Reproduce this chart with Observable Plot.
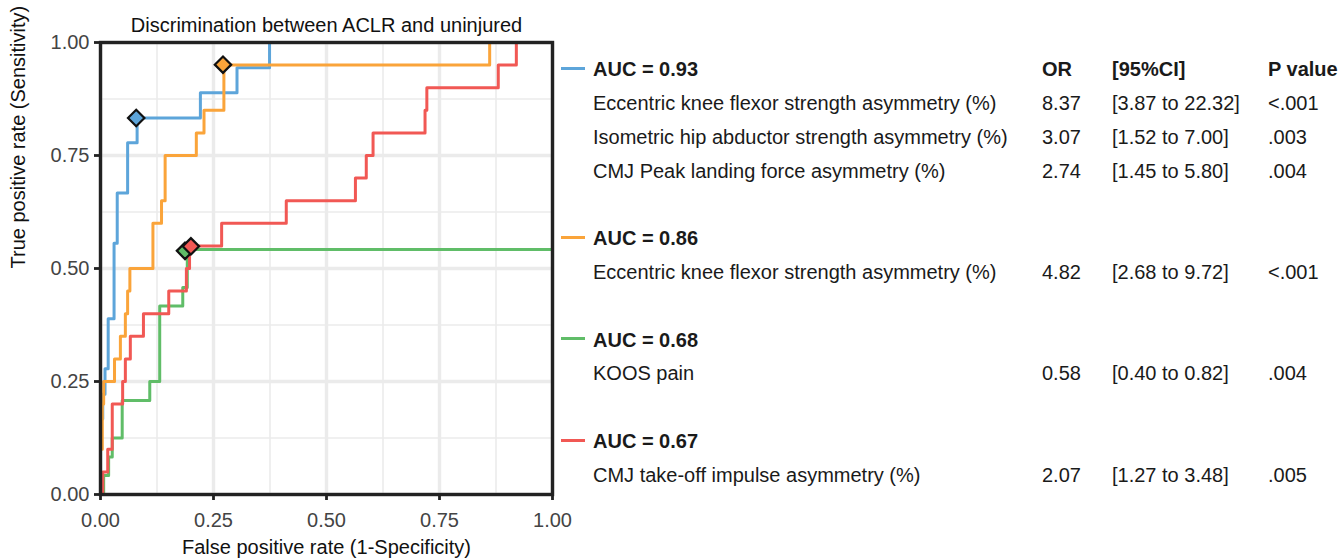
<!DOCTYPE html>
<html>
<head>
<meta charset="utf-8">
<script src="https://cdn.jsdelivr.net/npm/d3@7"></script>
<script src="https://cdn.jsdelivr.net/npm/@observablehq/plot@0.6"></script>
<style>
  html, body { margin: 0; padding: 0; background: #fff; }
  #wrap { position: relative; width: 1339px; height: 560px; overflow: hidden; font-family: "Liberation Sans", Arial, sans-serif; }
  #wrap svg { position: absolute; left: 0; top: 0; }
  .row { position: absolute; font-size: 20px; line-height: 34px; height: 34px; color: #1a1a1a; white-space: nowrap; }
  .bold { font-weight: bold; }
  .key { position: absolute; height: 3px; width: 24px; }
</style>
</head>
<body>
<div id="wrap"></div>
<script>
// ---- data ----
const models = ["AUC = 0.93", "AUC = 0.86", "AUC = 0.68", "AUC = 0.67"];
const colors = ["#5DA5DA", "#FAA43A", "#60BD68", "#F15854"];

const blueFpr = [0,0,0.005,0.005,0.010,0.010,0.017,0.017,0.030,0.030,0.037,0.037,0.060,0.060,0.081,0.081,0.221,0.221,0.302,0.302,0.374,0.374,1];
const blueTpr = [0,0.167,0.167,0.222,0.222,0.278,0.278,0.389,0.389,0.556,0.556,0.667,0.667,0.778,0.778,0.833,0.833,0.889,0.889,0.944,0.944,1,1];

const orangeFpr = [0,0,0.004,0.004,0.007,0.007,0.031,0.031,0.044,0.044,0.055,0.055,0.060,0.060,0.065,0.065,0.116,0.116,0.135,0.135,0.143,0.143,0.212,0.212,0.229,0.229,0.273,0.273,0.861,0.861,1];
const orangeTpr = [0,0.10,0.10,0.20,0.20,0.25,0.25,0.30,0.30,0.35,0.35,0.40,0.40,0.45,0.45,0.50,0.50,0.60,0.60,0.65,0.65,0.75,0.75,0.80,0.80,0.85,0.85,0.95,0.95,1,1];

const greenFpr = [0,0.007,0.007,0.018,0.018,0.026,0.026,0.048,0.048,0.109,0.109,0.131,0.131,0.182,0.182,0.192,0.192,1];
const greenTpr = [0,0,0.042,0.042,0.083,0.083,0.125,0.125,0.208,0.208,0.25,0.25,0.417,0.417,0.458,0.458,0.542,0.542];

const redFpr = [0,0.005,0.005,0.016,0.016,0.026,0.026,0.049,0.049,0.055,0.055,0.066,0.066,0.095,0.095,0.151,0.151,0.190,0.190,0.197,0.197,0.268,0.268,0.411,0.411,0.564,0.564,0.588,0.588,0.603,0.603,0.718,0.718,0.722,0.722,0.880,0.880,0.920,0.920,1];
const redTpr = [0,0,0.05,0.05,0.10,0.10,0.20,0.20,0.25,0.25,0.30,0.30,0.35,0.35,0.40,0.40,0.45,0.45,0.50,0.50,0.55,0.55,0.60,0.60,0.65,0.65,0.70,0.70,0.75,0.75,0.80,0.80,0.85,0.85,0.90,0.90,0.95,0.95,1,1];

const cutFpr = [0.079, 0.271, 0.187, 0.200];
const cutTpr = [0.833, 0.951, 0.539, 0.549];

const xTicks = [0, 0.25, 0.5, 0.75, 1];
const yTicks = [0, 0.25, 0.5, 0.75, 1];
const minorTicks = [0.125, 0.375, 0.625, 0.875];

const title = "Discrimination between ACLR and uninjured";
const xLabel = "False positive rate (1-Specificity)";
const yLabel = "True positive rate (Sensitivity)";

const tableHeader = ["OR", "[95%CI]", "P value"];
const predictors = [
  ["Eccentric knee flexor strength asymmetry (%)", "Isometric hip abductor strength asymmetry (%)", "CMJ Peak landing force asymmetry (%)"],
  ["Eccentric knee flexor strength asymmetry (%)"],
  ["KOOS pain"],
  ["CMJ take-off impulse asymmetry (%)"]
];
const oddsRatios = [["8.37", "3.07", "2.74"], ["4.82"], ["0.58"], ["2.07"]];
const confInts = [["[3.87 to 22.32]", "[1.52 to 7.00]", "[1.45 to 5.80]"], ["[2.68 to 9.72]"], ["[0.40 to 0.82]"], ["[1.27 to 3.48]"]];
const pValues = [["<.001", ".003", ".004"], ["<.001"], [".004"], [".005"]];

// ---- build tables ----
const curves = [[blueFpr, blueTpr], [orangeFpr, orangeTpr], [greenFpr, greenTpr], [redFpr, redTpr]];
const lineData = curves.flatMap(([fx, ty], i) => fx.map((f, j) => ({model: models[i], fpr: f, tpr: ty[j]})));
const cutData = models.map((m, i) => ({model: m, fpr: cutFpr[i], tpr: cutTpr[i]}));

const color = {domain: models, range: colors};

const chart = Plot.plot({
  width: 580,
  height: 560,
  marginLeft: 100,
  marginRight: 28,
  marginTop: 42,
  marginBottom: 66,
  style: {fontFamily: "'Liberation Sans', Arial, sans-serif", fontSize: "20px", background: "transparent", overflow: "visible"},
  x: {domain: [0, 1]},
  y: {domain: [0, 1]},
  color,
  marks: [
    Plot.gridX(minorTicks, {stroke: "#ebebeb", strokeOpacity: 1, strokeWidth: 1.6}),
    Plot.gridY(minorTicks, {stroke: "#ebebeb", strokeOpacity: 1, strokeWidth: 1.6}),
    Plot.gridX(xTicks, {stroke: "#ebebeb", strokeOpacity: 1, strokeWidth: 3.4}),
    Plot.gridY(yTicks, {stroke: "#ebebeb", strokeOpacity: 1, strokeWidth: 3.4}),
    Plot.line(lineData, {x: "fpr", y: "tpr", z: "model", stroke: "model", strokeWidth: 3, curve: "linear"}),
    Plot.dot(cutData, {x: "fpr", y: "tpr", fill: "model", stroke: "#111", strokeWidth: 2.2, symbol: "diamond2", r: 7.4}),
    Plot.frame({stroke: "#222", strokeWidth: 3.4}),
    Plot.axisX(xTicks, {tickFormat: d3.format(".2f"), tickSize: 6, tickPadding: 12, stroke: "#222", strokeWidth: 2.8, fill: "#444", label: null}),
    Plot.axisY(yTicks, {tickFormat: d3.format(".2f"), tickSize: 6, tickPadding: 5, stroke: "#222", strokeWidth: 2.8, fill: "#444", label: null}),
    Plot.text([title], {frameAnchor: "top", dy: -25, fill: "#111", fontSize: 20}),
    Plot.text([xLabel], {frameAnchor: "bottom", dy: 59, fill: "#111", fontSize: 20}),
    Plot.text([yLabel], {frameAnchor: "left", dx: -82, rotate: -90, fill: "#111", fontSize: 20})
  ]
});

const wrap = document.getElementById("wrap");
wrap.appendChild(chart);

// ---- right-hand legend / table ----
const rowStep = 33.8;
const firstCenter = 69;
const colX = {label: 593, or: 1042, ci: 1112, p: 1268};
function addText(txt, x, center, bold) {
  const d = document.createElement("div");
  d.className = "row" + (bold ? " bold" : "");
  d.style.left = x + "px";
  d.style.top = (center - 16.8) + "px";
  d.textContent = txt;
  wrap.appendChild(d);
}
let k = 0;
models.forEach((m, gi) => {
  const c = firstCenter + rowStep * k;
  const key = document.createElement("div");
  key.className = "key";
  key.style.left = "561px";
  key.style.top = (c - 2) + "px";
  key.style.background = colors[gi];
  wrap.appendChild(key);
  addText(m, colX.label, c, true);
  if (gi === 0) {
    addText(tableHeader[0], colX.or, c, true);
    addText(tableHeader[1], colX.ci, c, true);
    addText(tableHeader[2], colX.p, c, true);
  }
  k += 1;
  predictors[gi].forEach((p, ri) => {
    const cc = firstCenter + rowStep * k;
    addText(p, colX.label, cc, false);
    addText(oddsRatios[gi][ri], colX.or, cc, false);
    addText(confInts[gi][ri], colX.ci, cc, false);
    addText(pValues[gi][ri], colX.p, cc, false);
    k += 1;
  });
  k += 1;
});
</script>
</body>
</html>
